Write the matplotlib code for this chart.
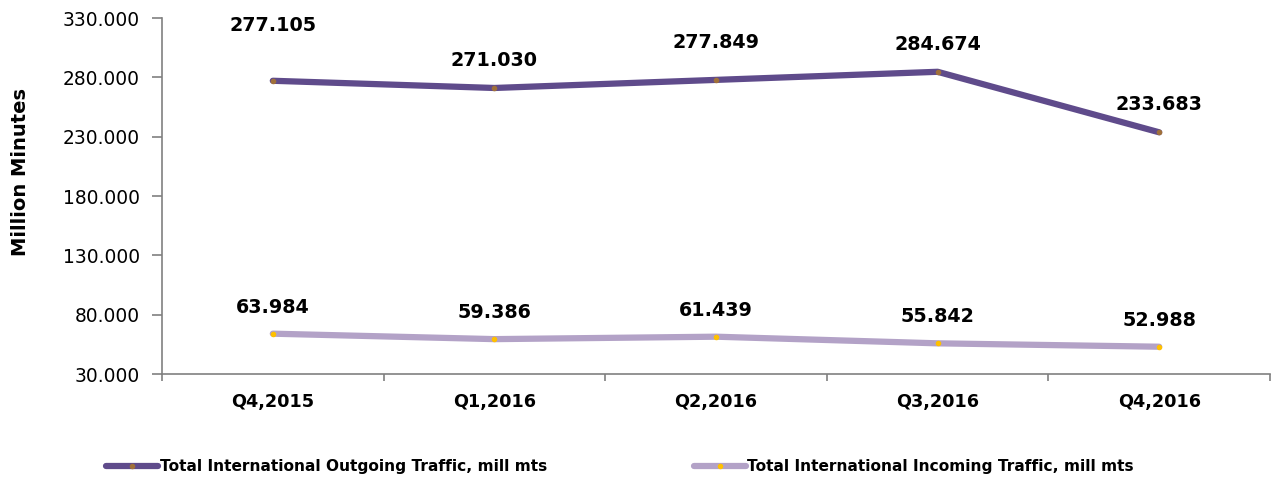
import matplotlib.pyplot as plt
from matplotlib.ticker import FixedLocator, FuncFormatter

quarters = ['Q4,2015', 'Q1,2016', 'Q2,2016', 'Q3,2016', 'Q4,2016']
outgoing = [277.105, 271.030, 277.849, 284.674, 233.683]
incoming = [63.984, 59.386, 61.439, 55.842, 52.988]

plt.rcParams['font.family'] = ['DejaVu Sans']

fig = plt.figure(figsize=(12.78, 4.82), dpi=100)
ax = fig.add_axes([162 / 1278, 1 - 374 / 482, 1108 / 1278, 356 / 482])

x = list(range(len(quarters)))
ax.plot(x, outgoing, color='#5f4b8b', lw=4.5, solid_capstyle='round',
        marker='o', ms=3, mfc='#a0703a', mec='#a0703a',
        label='Total International Outgoing Traffic, mill mts')
ax.plot(x, incoming, color='#b3a2c7', lw=4.5, solid_capstyle='round',
        marker='o', ms=3, mfc='#ffc000', mec='#ffc000',
        label='Total International Incoming Traffic, mill mts')

# label offsets above each point (first outgoing label sits higher)
out_off = [40, 20, 27, 20, 20]
for i, v in enumerate(outgoing):
    ax.annotate(f'{v:.3f}', (x[i], v), xytext=(0, out_off[i]), textcoords='offset points',
                ha='center', va='center', fontsize=13.8, fontweight='bold')
for i, v in enumerate(incoming):
    ax.annotate(f'{v:.3f}', (x[i], v), xytext=(0, 19), textcoords='offset points',
                ha='center', va='center', fontsize=13.8, fontweight='bold')

ax.set_xlim(-0.5, len(quarters) - 0.5)
ax.set_ylim(30, 330)
ax.set_yticks(range(30, 331, 50))
ax.yaxis.set_major_formatter(FuncFormatter(lambda v, p: f'{v:.3f}'))
ax.xaxis.set_major_locator(FixedLocator([i - 0.5 for i in range(len(quarters) + 1)]))
ax.xaxis.set_minor_locator(FixedLocator(x))
ax.set_xticklabels([])
ax.set_xticklabels(quarters, minor=True)
ax.tick_params(axis='x', which='minor', length=0, pad=14, labelsize=12.7)
ax.tick_params(axis='x', which='major', length=5, color='#808080', width=1.2)
ax.tick_params(axis='y', length=7, color='#808080', width=1.2, labelsize=13.4, pad=9)
for lbl in ax.get_xticklabels(minor=True):
    lbl.set_fontweight('bold')

for s in ['top', 'right']:
    ax.spines[s].set_visible(False)
for s in ['left', 'bottom']:
    ax.spines[s].set_color('#808080')
    ax.spines[s].set_linewidth(1.2)

ax.set_ylabel('Million Minutes', fontsize=14, fontweight='bold')
ax.yaxis.set_label_coords(-0.119, 0.567)

leg = fig.legend(loc='center', bbox_to_anchor=(620 / 1278, 1 - 467 / 482), ncol=2, frameon=False,
                 fontsize=11.1, handlelength=3.4, handletextpad=0.1, columnspacing=9.5)
for t in leg.get_texts():
    t.set_fontweight('bold')

fig.savefig('out.png', dpi=100)
